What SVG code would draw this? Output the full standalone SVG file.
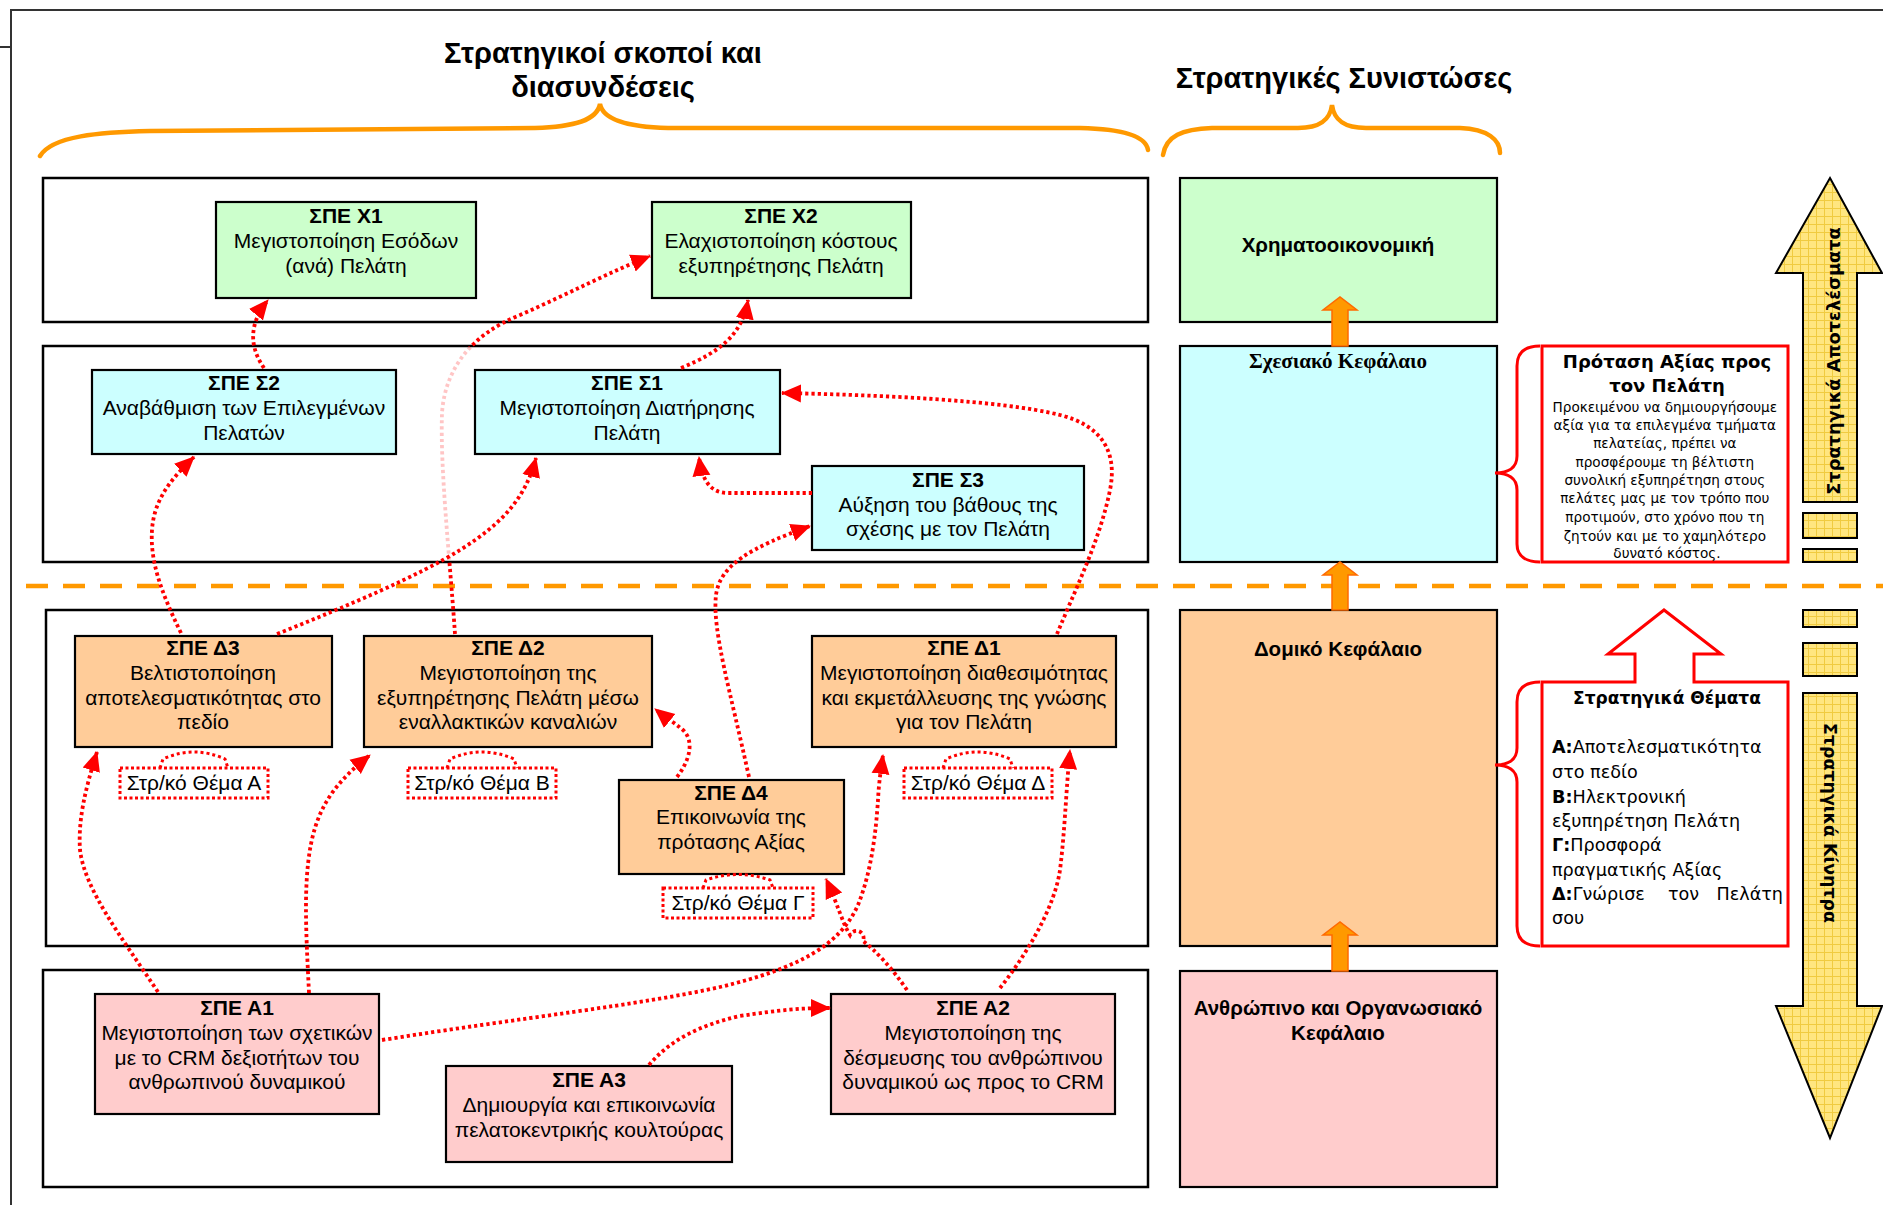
<svg xmlns="http://www.w3.org/2000/svg" width="1883" height="1205" viewBox="0 0 1883 1205">
  <defs>
    <style>
      .frame { fill: none; stroke: #333; stroke-width: 2; }
      .cont { fill: #fff; stroke: #000; stroke-width: 2.5; }
      .box { stroke: #000; stroke-width: 2.2; }
      .green { fill: #CCFFCC; }
      .cyan { fill: #CCFFFF; }
      .orange { fill: #FFCC99; }
      .pink { fill: #FFCCCC; }
      .t { font-family: "Liberation Sans", Arial, sans-serif; font-size: 21px; text-anchor: middle; fill: #000; }
      .b { font-weight: bold; }
      .head { font-family: "Liberation Sans", Arial, sans-serif; font-size: 29px; font-weight: bold; text-anchor: middle; }
      .cap { font-family: "Liberation Sans", Arial, sans-serif; font-size: 20.5px; font-weight: bold; text-anchor: middle; }
      .capserif { font-family: "Liberation Serif", "Times New Roman", serif; font-size: 21px; font-weight: bold; text-anchor: middle; }
      .rp { font-family: "DejaVu Sans", Verdana, sans-serif; fill: #000; }
      .brace { fill: none; stroke: #FF9900; stroke-width: 4.5; stroke-linecap: round; }
      .rbrace { fill: none; stroke: #FF0000; stroke-width: 3; }
      .rbox { fill: #fff; stroke: #FF0000; stroke-width: 3; }
      .dash { fill: none; stroke: #FF9900; stroke-width: 4.5; stroke-dasharray: 22 15; }
      .blk { fill: #FF9900; stroke: #FF6A00; stroke-width: 1.5; }
      .yel { fill: url(#grid); stroke: #000; stroke-width: 2; }
      .conn { fill: none; stroke: #FF0000; stroke-width: 3.8; stroke-dasharray: 3.2 3; marker-end: url(#ah); }
      .jump { fill: none; stroke: #FF0000; stroke-width: 3; stroke-dasharray: 3 3; }
      .lbl { fill: #fff; stroke: #FF0000; stroke-width: 3; stroke-dasharray: 3 2.5; }
    </style>
    <marker id="ah" viewBox="0 0 20 20" refX="19" refY="10" markerWidth="20" markerHeight="20" markerUnits="userSpaceOnUse" orient="auto">
      <path d="M0,1 L20,10 L0,19 z" fill="#FF0000"/>
    </marker>
    <pattern id="grid" width="8" height="8" patternUnits="userSpaceOnUse">
      <rect width="8" height="8" fill="#FFE680"/>
      <path d="M0,0.5 H8 M0.5,0 V8" stroke="#F0CB40" stroke-width="1"/>
    </pattern>
    <mask id="fade">
      <rect x="0" y="0" width="1883" height="1205" fill="#fff"/>
      <rect x="44" y="347" width="1103" height="214" fill="#3a3a3a"/>
    </mask>
  </defs>

  <rect width="1883" height="1205" fill="#fff"/>

  <!-- page frame -->
  <path class="frame" d="M11,1205 V10 H1883 M0,47 H11"/>

  <!-- headings and braces -->
  <g id="headings">
    <text class="head" x="603" y="63">Στρατηγικοί σκοποί και</text>
    <text class="head" x="603" y="97">διασυνδέσεις</text>
    <text class="head" x="1344" y="88">Στρατηγικές Συνιστώσες</text>
    <path class="brace" d="M40,156 C52,136 100,132 150,131 L535,128 C575,127 597,120 600,104 C603,120 628,127 668,128 L1080,128 C1122,129 1146,136 1148,150"/>
    <path class="brace" d="M1163,155 C1166,136 1182,129 1212,128 L1298,128 C1320,128 1330,120 1332,105 C1334,120 1344,128 1366,128 L1460,128 C1488,129 1500,140 1500,153"/>
  </g>

  <!-- containers -->
  <g id="containers">
    <rect class="cont" x="43" y="178" width="1105" height="144"/>
    <rect class="cont" x="43" y="346" width="1105" height="216"/>
    <rect class="cont" x="46" y="610" width="1102" height="336"/>
    <rect class="cont" x="43" y="970" width="1105" height="217"/>
  </g>

  <!-- perspective separator -->
  <line class="dash" x1="26" y1="586" x2="1883" y2="586"/>

  <!-- strategic objectives -->
  <g id="X1">
    <rect class="box green" x="216" y="202" width="260" height="96"/>
    <text class="t"><tspan class="b" x="346" y="223">ΣΠΕ Χ1</tspan><tspan x="346" y="248">Μεγιστοποίηση Εσόδων</tspan><tspan x="346" y="273">(ανά) Πελάτη</tspan></text>
  </g>
  <g id="X2">
    <rect class="box green" x="652" y="202" width="259" height="96"/>
    <text class="t"><tspan class="b" x="781" y="223">ΣΠΕ Χ2</tspan><tspan x="781" y="248">Ελαχιστοποίηση κόστους</tspan><tspan x="781" y="273">εξυπηρέτησης Πελάτη</tspan></text>
  </g>
  <g id="S2">
    <rect class="box cyan" x="92" y="370" width="304" height="84"/>
    <text class="t"><tspan class="b" x="244" y="390">ΣΠΕ Σ2</tspan><tspan x="244" y="415">Αναβάθμιση των Επιλεγμένων</tspan><tspan x="244" y="440">Πελατών</tspan></text>
  </g>
  <g id="S1">
    <rect class="box cyan" x="475" y="370" width="305" height="84"/>
    <text class="t"><tspan class="b" x="627" y="390">ΣΠΕ Σ1</tspan><tspan x="627" y="415">Μεγιστοποίηση Διατήρησης</tspan><tspan x="627" y="440">Πελάτη</tspan></text>
  </g>
  <g id="S3">
    <rect class="box cyan" x="812" y="466" width="272" height="84"/>
    <text class="t"><tspan class="b" x="948" y="487">ΣΠΕ Σ3</tspan><tspan x="948" y="512">Αύξηση του βάθους της</tspan><tspan x="948" y="536">σχέσης με τον Πελάτη</tspan></text>
  </g>
  <g id="D3">
    <rect class="box orange" x="75" y="636" width="257" height="111"/>
    <text class="t"><tspan class="b" x="203" y="655">ΣΠΕ Δ3</tspan><tspan x="203" y="680">Βελτιστοποίηση</tspan><tspan x="203" y="705">αποτελεσματικότητας στο</tspan><tspan x="203" y="729">πεδίο</tspan></text>
  </g>
  <g id="D2">
    <rect class="box orange" x="364" y="636" width="288" height="111"/>
    <text class="t"><tspan class="b" x="508" y="655">ΣΠΕ Δ2</tspan><tspan x="508" y="680">Μεγιστοποίηση της</tspan><tspan x="508" y="705">εξυπηρέτησης Πελάτη μέσω</tspan><tspan x="508" y="729">εναλλακτικών καναλιών</tspan></text>
  </g>
  <g id="D1">
    <rect class="box orange" x="812" y="636" width="304" height="111"/>
    <text class="t"><tspan class="b" x="964" y="655">ΣΠΕ Δ1</tspan><tspan x="964" y="680">Μεγιστοποίηση διαθεσιμότητας</tspan><tspan x="964" y="705">και εκμετάλλευσης της γνώσης</tspan><tspan x="964" y="729">για τον Πελάτη</tspan></text>
  </g>
  <g id="D4">
    <rect class="box orange" x="619" y="780" width="225" height="94"/>
    <text class="t"><tspan class="b" x="731" y="800">ΣΠΕ Δ4</tspan><tspan x="731" y="824">Επικοινωνία της</tspan><tspan x="731" y="849">πρότασης Αξίας</tspan></text>
  </g>
  <g id="A1">
    <rect class="box pink" x="95" y="994" width="284" height="120"/>
    <text class="t"><tspan class="b" x="237" y="1015">ΣΠΕ Α1</tspan><tspan x="237" y="1040">Μεγιστοποίηση των σχετικών</tspan><tspan x="237" y="1065">με το CRM δεξιοτήτων του</tspan><tspan x="237" y="1089">ανθρωπινού δυναμικού</tspan></text>
  </g>
  <g id="A3">
    <rect class="box pink" x="446" y="1066" width="286" height="96"/>
    <text class="t"><tspan class="b" x="589" y="1087">ΣΠΕ Α3</tspan><tspan x="589" y="1112">Δημιουργία και επικοινωνία</tspan><tspan x="589" y="1137">πελατοκεντρικής κουλτούρας</tspan></text>
  </g>
  <g id="A2">
    <rect class="box pink" x="831" y="994" width="284" height="120"/>
    <text class="t"><tspan class="b" x="973" y="1015">ΣΠΕ Α2</tspan><tspan x="973" y="1040">Μεγιστοποίηση της</tspan><tspan x="973" y="1065">δέσμευσης του ανθρώπινου</tspan><tspan x="973" y="1089">δυναμικού ως προς το CRM</tspan></text>
  </g>

  <!-- strategic theme labels -->
  <g id="themeA">
    <rect class="lbl" x="120" y="768" width="148" height="30"/>
    <path class="jump" d="M160,768 L163,759 Q194,745 225,759 L228,768"/>
    <text class="t" x="194" y="790">Στρ/κό Θέμα Α</text>
  </g>
  <g id="themeB">
    <rect class="lbl" x="408" y="768" width="148" height="30"/>
    <path class="jump" d="M447,768 L450,759 Q482,745 514,759 L517,768"/>
    <text class="t" x="482" y="790">Στρ/κό Θέμα Β</text>
  </g>
  <g id="themeD">
    <rect class="lbl" x="904" y="768" width="148" height="30"/>
    <path class="jump" d="M943,768 L946,759 Q978,745 1010,759 L1013,768"/>
    <text class="t" x="978" y="790">Στρ/κό Θέμα Δ</text>
  </g>
  <g id="themeG">
    <rect class="lbl" x="663" y="888" width="150" height="30"/>
    <path class="jump" d="M703,888 L706,880 Q738,869 770,880 L773,888"/>
    <text class="t" x="738" y="910">Στρ/κό Θέμα Γ</text>
  </g>

  <!-- cause-and-effect links -->
  <g id="connectors">
    <path class="conn" d="M264,368 C248,345 250,322 268,300"/>
    <path class="conn" d="M681,368 C720,352 742,335 748,300"/>
    <path class="conn" mask="url(#fade)" d="M455,634 C450,560 440,470 442,413 C445,370 470,335 520,315 C570,293 610,272 650,256"/>
    <path class="conn" d="M181,633 C160,590 150,560 152,530 C154,500 170,480 194,457"/>
    <path class="conn" d="M277,634 C350,605 420,575 460,550 C500,525 525,500 536,458"/>
    <path class="conn" d="M812,493 L728,493 C710,493 702,480 699,457"/>
    <path class="conn" d="M1057,634 C1075,590 1100,540 1110,490 C1118,450 1100,425 1060,415 C1000,400 880,395 782,393"/>
    <path class="conn" d="M749,777 C730,690 712,630 716,595 C720,565 750,548 810,526"/>
    <path class="conn" d="M677,777 C690,760 694,742 684,731 C674,722 666,718 655,709"/>
    <path class="conn" d="M158,992 C120,935 85,890 80,850 C78,820 85,790 97,752"/>
    <path class="conn" d="M309,993 C306,930 302,870 315,828 C325,795 345,775 370,755"/>
    <path class="conn" d="M382,1040 C520,1018 640,1005 720,987 C800,968 840,945 858,905 C872,870 876,830 878,800 C879,780 881,770 883,755"/>
    <path class="conn" d="M649,1065 C670,1040 700,1025 740,1016 C780,1010 800,1008 830,1008"/>
    <path class="conn" d="M907,990 C892,968 875,950 863,941 A7,7 0 0 0 850,935 C842,922 838,905 826,879"/>
    <path class="conn" d="M1000,988 C1030,950 1055,905 1060,870 C1065,830 1066,790 1070,750"/>
  </g>

  <!-- perspectives column -->
  <g id="financial">
    <rect class="box green" x="1180" y="178" width="317" height="144"/>
    <text class="cap" x="1338" y="252">Χρηματοοικονομική</text>
  </g>
  <g id="relational">
    <rect class="box cyan" x="1180" y="346" width="317" height="216"/>
    <text class="capserif" x="1338" y="368">Σχεσιακό Κεφάλαιο</text>
  </g>
  <g id="structural">
    <rect class="box orange" x="1180" y="610" width="317" height="336"/>
    <text class="cap" x="1338" y="656">Δομικό Κεφάλαιο</text>
  </g>
  <g id="human">
    <rect class="box pink" x="1180" y="971" width="317" height="216"/>
    <text class="cap"><tspan x="1338" y="1015">Ανθρώπινο και Οργανωσιακό</tspan><tspan x="1338" y="1040">Κεφάλαιο</tspan></text>
  </g>
  <g id="flow-arrows">
    <polygon class="blk" points="1332,346 1332,310 1323,310 1340,297 1357,310 1348,310 1348,346"/>
    <polygon class="blk" points="1332,610 1332,575 1323,575 1340,562 1357,575 1348,575 1348,610"/>
    <polygon class="blk" points="1332,971 1332,935 1323,935 1340,922 1357,935 1348,935 1348,971"/>
  </g>

  <!-- customer value proposition -->
  <g id="value-proposition">
    <path class="rbrace" d="M1540,346 C1526,346 1517,352 1517,366 L1517,456 C1517,468 1508,473 1495,473 C1508,473 1517,478 1517,490 L1517,544 C1517,556 1526,562 1540,562"/>
    <rect class="rbox" x="1542" y="346" width="246" height="216"/>
    <text class="rp" font-size="18" font-weight="bold" text-anchor="middle"><tspan x="1667" y="368">Πρόταση Αξίας προς</tspan><tspan x="1667" y="392">τον Πελάτη</tspan></text>
    <text class="rp" font-size="13.6" text-anchor="middle">
      <tspan x="1667" y="412">Προκειμένου να δημιουργήσουμε</tspan>
      <tspan x="1667" y="430">αξία για τα επιλεγμένα τμήματα</tspan>
      <tspan x="1667" y="448">πελατείας, πρέπει να</tspan>
      <tspan x="1667" y="467">προσφέρουμε τη βέλτιστη</tspan>
      <tspan x="1667" y="485">συνολική εξυπηρέτηση στους</tspan>
      <tspan x="1667" y="503">πελάτες μας με τον τρόπο που</tspan>
      <tspan x="1667" y="522">προτιμούν, στο χρόνο που τη</tspan>
      <tspan x="1667" y="541">ζητούν και με το χαμηλότερο</tspan>
      <tspan x="1667" y="558">δυνατό κόστος.</tspan>
    </text>
  </g>

  <!-- strategic themes -->
  <g id="strategic-themes">
    <path class="rbrace" d="M1540,682 C1526,682 1517,688 1517,702 L1517,748 C1517,760 1508,765 1495,765 C1508,765 1517,770 1517,782 L1517,926 C1517,940 1526,946 1540,946"/>
    <path class="rbox" d="M1542,682 L1635,682 L1635,654 L1608,654 L1664,610 L1721,654 L1694,654 L1694,682 L1788,682 L1788,946 L1542,946 Z"/>
    <text class="rp" x="1667" y="704" font-size="17" font-weight="bold" text-anchor="middle">Στρατηγικά Θέματα</text>
    <text class="rp" font-size="17.6">
      <tspan x="1552" y="753"><tspan font-weight="bold">Α:</tspan>Αποτελεσματικότητα</tspan>
      <tspan x="1552" y="778">στο πεδίο</tspan>
      <tspan x="1552" y="803"><tspan font-weight="bold">Β:</tspan>Ηλεκτρονική</tspan>
      <tspan x="1552" y="827">εξυπηρέτηση Πελάτη</tspan>
      <tspan x="1552" y="851"><tspan font-weight="bold">Γ:</tspan>Προσφορά</tspan>
      <tspan x="1552" y="876">πραγματικής Αξίας</tspan>
      <tspan x="1552" y="924">σου</tspan>
    </text>
    <text class="rp" font-size="17.6" x="1552" y="900"><tspan font-weight="bold">Δ:</tspan>Γνώρισε</text>
    <text class="rp" font-size="17.6" x="1668" y="900">τον</text>
    <text class="rp" font-size="17.6" x="1783" y="900" text-anchor="end">Πελάτη</text>
  </g>

  <!-- results / drivers arrows -->
  <g id="results-arrow">
    <polygon class="yel" points="1830,178 1882,273 1857,273 1857,502 1803,502 1803,273 1776,273"/>
    <rect class="yel" x="1803" y="513" width="54" height="25"/>
    <rect class="yel" x="1803" y="549" width="54" height="13"/>
    <text class="rp" font-size="17.8" font-weight="bold" text-anchor="middle" transform="translate(1840,361) rotate(-90)">Στρατηγικά Αποτελέσματα</text>
  </g>
  <g id="drivers-arrow">
    <rect class="yel" x="1803" y="610" width="54" height="17"/>
    <rect class="yel" x="1803" y="643" width="54" height="33"/>
    <polygon class="yel" points="1803,693 1857,693 1857,1006 1882,1006 1830,1138 1776,1006 1803,1006"/>
    <text class="rp" font-size="17.4" font-weight="bold" text-anchor="middle" transform="translate(1824,823) rotate(90)">Στρατηγικά Κίνητρα</text>
  </g>
</svg>
